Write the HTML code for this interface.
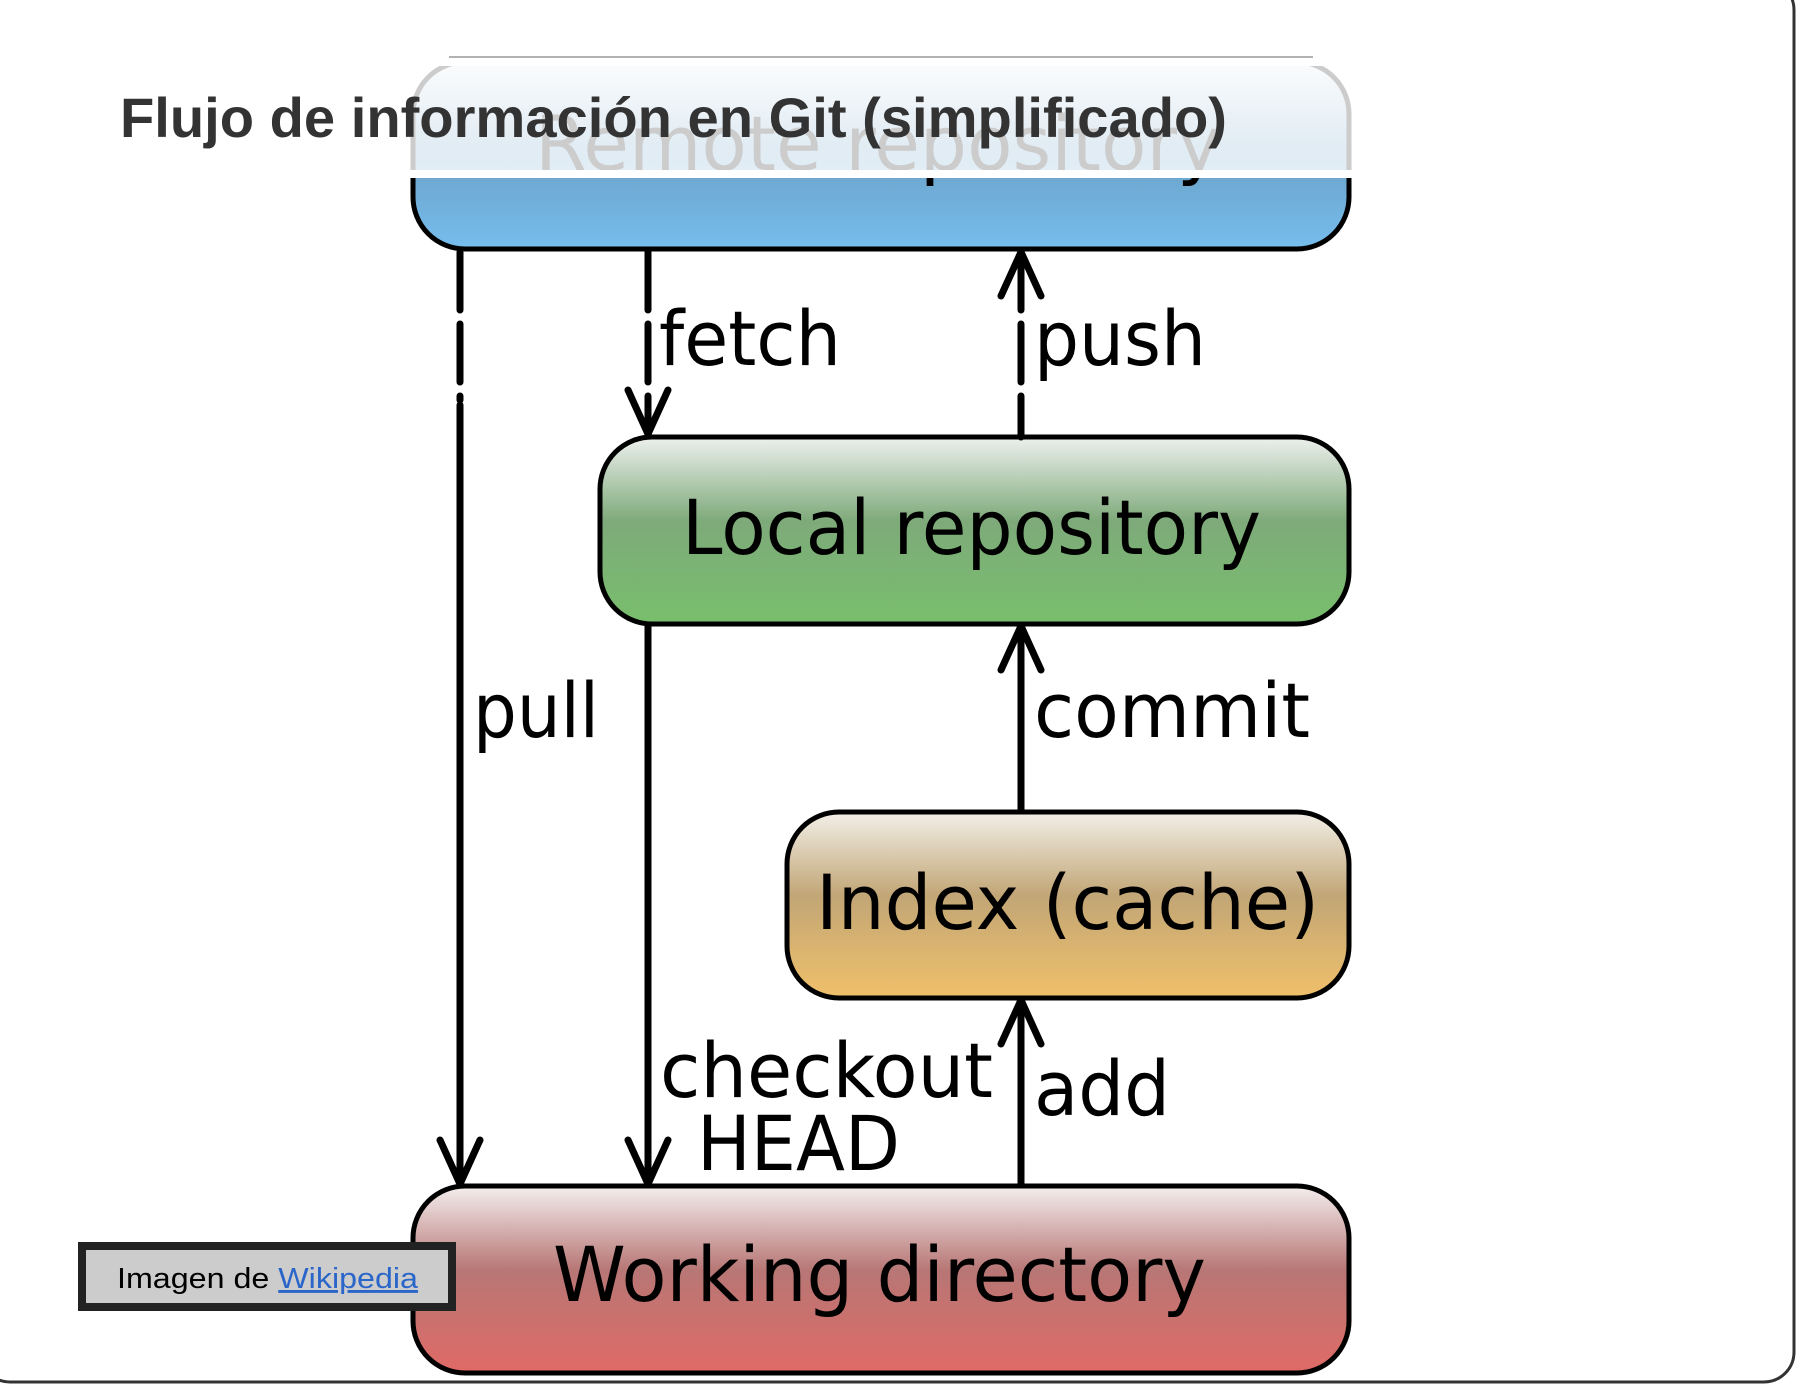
<!DOCTYPE html>
<html><head><meta charset="utf-8"><style>html,body{margin:0;padding:0;background:#fff;}svg{display:block}</style></head>
<body>
<svg width="1798" height="1384" viewBox="0 0 1798 1384" xmlns="http://www.w3.org/2000/svg">
<defs>
<linearGradient id="gb" x1="0" y1="0" x2="0" y2="1"><stop offset="0" stop-color="#e8eef3"/><stop offset="0.45" stop-color="#6a9fc4"/><stop offset="1" stop-color="#76bdee"/></linearGradient>
<linearGradient id="gg" x1="0" y1="0" x2="0" y2="1"><stop offset="0" stop-color="#eef0ee"/><stop offset="0.45" stop-color="#7eaa7a"/><stop offset="1" stop-color="#78bf6c"/></linearGradient>
<linearGradient id="gy" x1="0" y1="0" x2="0" y2="1"><stop offset="0" stop-color="#f2efe8"/><stop offset="0.45" stop-color="#c2a676"/><stop offset="1" stop-color="#f0c06a"/></linearGradient>
<linearGradient id="gr" x1="0" y1="0" x2="0" y2="1"><stop offset="0" stop-color="#f4eeee"/><stop offset="0.45" stop-color="#b77775"/><stop offset="1" stop-color="#e06a66"/></linearGradient>
</defs>
<g stroke="#000" stroke-width="5">
<rect x="413" y="62" width="936" height="187" rx="52" fill="url(#gb)"/>
<rect x="600" y="437" width="749" height="187" rx="52" fill="url(#gg)"/>
<rect x="787" y="812" width="562" height="186" rx="52" fill="url(#gy)"/>
<rect x="413" y="1186" width="936" height="187" rx="52" fill="url(#gr)"/>
</g>
<g font-family="DejaVu Sans, sans-serif" font-size="76" fill="#000">
<text x="535" y="170" textLength="686" lengthAdjust="spacingAndGlyphs">Remote repository</text>
<text x="682" y="554" textLength="579" lengthAdjust="spacingAndGlyphs">Local repository</text>
<text x="816" y="929" textLength="503" lengthAdjust="spacingAndGlyphs">Index (cache)</text>
<text x="553" y="1301" textLength="653" lengthAdjust="spacingAndGlyphs">Working directory</text>
<text x="659" y="365" textLength="182" lengthAdjust="spacingAndGlyphs">fetch</text>
<text x="1034" y="365" textLength="172" lengthAdjust="spacingAndGlyphs">push</text>
<text x="473" y="737" textLength="126" lengthAdjust="spacingAndGlyphs">pull</text>
<text x="1034" y="737" textLength="276" lengthAdjust="spacingAndGlyphs">commit</text>
<text x="660" y="1097" textLength="333" lengthAdjust="spacingAndGlyphs">checkout</text>
<text x="697" y="1170" textLength="203" lengthAdjust="spacingAndGlyphs">HEAD</text>
<text x="1034" y="1115" textLength="136" lengthAdjust="spacingAndGlyphs">add</text>
</g>
<g stroke="#000" stroke-width="7" fill="none" stroke-linecap="round" stroke-linejoin="round">
<line x1="460" y1="252" x2="460" y2="400" stroke-dasharray="58 14"/>
<line x1="460" y1="405" x2="460" y2="1184"/>
<polyline points="440,1140 460,1184 480,1140"/>
<line x1="648" y1="252" x2="648" y2="432" stroke-dasharray="58 14"/>
<polyline points="628,390 648,434 668,390"/>
<line x1="648" y1="626" x2="648" y2="1184"/>
<polyline points="628,1140 648,1184 668,1140"/>
<line x1="1021" y1="252" x2="1021" y2="437" stroke-dasharray="58 14"/>
<polyline points="1001,296 1021,252 1041,296"/>
<line x1="1021" y1="626" x2="1021" y2="810"/>
<polyline points="1001,670 1021,626 1041,670"/>
<line x1="1021" y1="1000" x2="1021" y2="1184"/>
<polyline points="1001,1044 1021,1000 1041,1044"/>
</g>
<rect x="405" y="0" width="952" height="66" fill="#fff"/>
<rect x="405" y="66" width="952" height="104" fill="#fff" fill-opacity="0.8"/>
<rect x="405" y="170" width="952" height="8" fill="#fff"/>
<line x1="449" y1="57" x2="1313" y2="57" stroke="#999" stroke-width="1.5"/>
<text x="120" y="137" font-family="Liberation Sans, sans-serif" font-weight="bold" font-size="56" fill="#333" textLength="1107" lengthAdjust="spacingAndGlyphs">Flujo de información en Git (simplificado)</text>
<rect x="82" y="1246" width="370" height="61" fill="#ccc" stroke="#222" stroke-width="8"/>
<text x="117" y="1288" font-family="Liberation Sans, sans-serif" font-size="29" fill="#000" textLength="301" lengthAdjust="spacingAndGlyphs">Imagen de <tspan fill="#2a66c9" text-decoration="underline">Wikipedia</tspan></text>
<rect x="-20" y="-20" width="1814" height="1402" rx="30" fill="none" stroke="#333" stroke-width="3"/>
</svg>
</body></html>
